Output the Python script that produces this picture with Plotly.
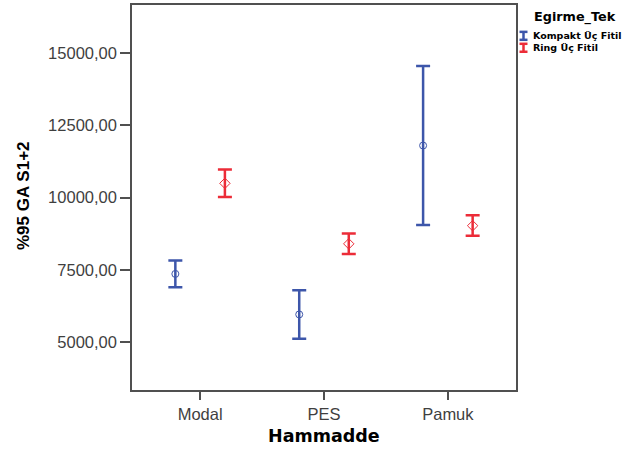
import plotly.graph_objects as go

# Raw material groups and spinning technique series
categories = ["Modal", "PES", "Pamuk"]
series_names = ["Kompakt Üç Fitil", "Ring Üç Fitil"]

# Mean values with 95% confidence interval bounds (S1+2)
kompakt_mean = [7360, 5960, 11795]
kompakt_lower = [6900, 5120, 9050]
kompakt_upper = [7820, 6800, 14540]

ring_mean = [10490, 8400, 9025]
ring_lower = [10020, 8050, 8675]
ring_upper = [10965, 8755, 9385]

y_ticks = [5000, 7500, 10000, 12500, 15000]

BLUE = "#3d56aa"
RED = "#ec2c38"
AXIS = "#505050"
TICK_TEXT = "#3f3f3f"
FONT = "Liberation Sans, Arial, sans-serif"
BOLD_FONT = "DejaVu Sans, Verdana, sans-serif"

W, H = 630, 452
L, R, T, B = 132, 114, 3, 62


def xp(px):
    return (px - L) / (W - L - R)


def yp(py):
    return (H - B - py) / (H - B - T)


def ci_trace(name, mean, lower, upper, color, symbol, msize):
    return go.Scatter(
        x=categories,
        y=mean,
        name=name,
        mode="markers",
        offsetgroup=name,
        marker=dict(symbol=symbol, size=msize, color=color,
                    line=dict(color=color, width=1)),
        error_y=dict(
            type="data",
            symmetric=False,
            array=[u - m for u, m in zip(upper, mean)],
            arrayminus=[m - lo for m, lo in zip(mean, lower)],
            color=color,
            thickness=2.5,
            width=7,
        ),
        showlegend=False,
    )


fig = go.Figure()
fig.add_trace(ci_trace(series_names[0], kompakt_mean, kompakt_lower,
                       kompakt_upper, BLUE, "circle-open", 7))
fig.add_trace(ci_trace(series_names[1], ring_mean, ring_lower,
                       ring_upper, RED, "diamond-open", 8))

fig.update_layout(
    width=W, height=H,
    margin=dict(l=L, r=R, t=T, b=B, pad=0),
    paper_bgcolor="white",
    plot_bgcolor="white",
    separators=",.",
    scattermode="group",
    scattergap=0.2,
    font=dict(family=FONT, color=TICK_TEXT),
    showlegend=False,
)

fig.update_xaxes(
    type="category",
    range=[-0.55, 2.55],
    showgrid=False, zeroline=False,
    showline=True, linecolor=AXIS, linewidth=1.5, mirror=True,
    ticks="outside", ticklen=8, tickwidth=1.5, tickcolor=AXIS,
    tickfont=dict(family=FONT, size=16.5, color=TICK_TEXT),
)
fig.update_yaxes(
    range=[3350, 16650],
    tickvals=y_ticks,
    tickformat=".2f",
    showgrid=False, zeroline=False,
    showline=True, linecolor=AXIS, linewidth=1.5, mirror=True,
    ticks="outside", ticklen=10, tickwidth=1.5, tickcolor=AXIS,
    tickfont=dict(family=FONT, size=16.5, color=TICK_TEXT),
)

annotations = [
    dict(text="<b>Hammadde</b>", x=xp(323.5), y=yp(436),
         font=dict(family=BOLD_FONT, size=17.5, color="black")),
    dict(text="<b>%95 GA S1+2</b>", x=xp(23), y=yp(195), textangle=-90,
         font=dict(family=FONT, size=17, color="black")),
    dict(text="<b>Egirme_Tek</b>", x=xp(532), y=yp(15), xanchor="left",
         font=dict(family=BOLD_FONT, size=12.8, color="black")),
    dict(text="<b>" + series_names[0] + "</b>", x=xp(531), y=yp(34),
         xanchor="left",
         font=dict(family=BOLD_FONT, size=9.5, color="black")),
    dict(text="<b>" + series_names[1] + "</b>", x=xp(531), y=yp(45.5),
         xanchor="left",
         font=dict(family=BOLD_FONT, size=9.5, color="black")),
]
for a in annotations:
    a.setdefault("xanchor", "center")
    a.setdefault("yanchor", "middle")
    fig.add_annotation(xref="paper", yref="paper", showarrow=False, **a)

# Legend keys drawn as small I-beam error-bar glyphs
shapes = []
for (top, bottom), color in [((30, 38), BLUE), ((42, 50), RED)]:
    cx = 523.5
    shapes.append(dict(type="line", x0=xp(cx), x1=xp(cx),
                       y0=yp(top), y1=yp(bottom),
                       line=dict(color=color, width=2.5)))
    for yy in (top, bottom):
        shapes.append(dict(type="line", x0=xp(cx - 4), x1=xp(cx + 4),
                           y0=yp(yy), y1=yp(yy),
                           line=dict(color=color, width=2.5)))
for s in shapes:
    fig.add_shape(xref="paper", yref="paper", **s)

fig.write_html("out.html")
